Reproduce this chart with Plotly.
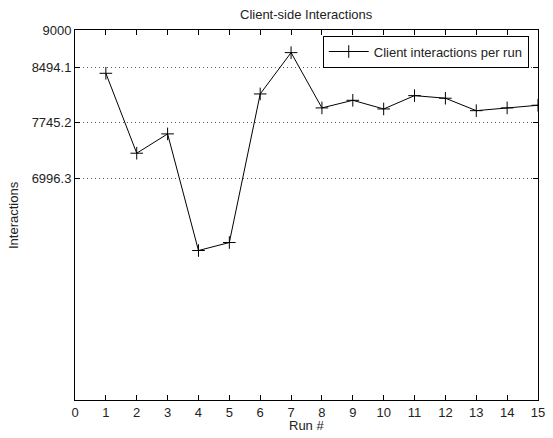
import plotly.graph_objects as go

runs = list(range(1, 16))
interactions = [8415, 7335, 7596, 6020, 6128, 8136, 8694, 7947, 8050, 7933,
                8113, 8078, 7910, 7947, 7983]
y_ticks = [6996.3, 7745.2, 8494.1, 9000]
y_tick_labels = ["6996.3", "7745.2", "8494.1", "9000"]
x_ticks = list(range(0, 16))

FONT = "Liberation Sans, Arial, sans-serif"

fig = go.Figure()
fig.add_trace(go.Scatter(
    x=runs, y=interactions, mode="lines+markers",
    name="Client interactions per run",
    line=dict(color="black", width=1),
    marker=dict(symbol="cross-thin", size=9, line=dict(color="black", width=1), color="black"),
))

axis_common = dict(
    showline=True, linecolor="black", linewidth=1, mirror="ticks",
    ticks="inside", ticklen=5, tickcolor="black", tickwidth=1,
    zeroline=False, tickfont=dict(family=FONT, size=13, color="#222"),
)

fig.update_layout(
    width=553, height=438,
    margin=dict(l=75, r=8, t=30, b=38),
    paper_bgcolor="white", plot_bgcolor="white",
    font=dict(family=FONT, size=13, color="#222"),
    showlegend=True,
    legend=dict(x=0.98, xanchor="right", y=0.985, yanchor="top",
                bordercolor="black", borderwidth=1, bgcolor="white",
                font=dict(family=FONT, size=13, color="#222"),
                itemwidth=40, tracegroupgap=0),
    xaxis=dict(range=[0, 15], tickvals=x_ticks, showgrid=False, **axis_common),
    yaxis=dict(range=[4000, 9000], tickvals=y_ticks, ticktext=y_tick_labels,
               showgrid=True, gridcolor="#555", griddash="1px,3px", gridwidth=1,
               **axis_common),
    annotations=[
        dict(text="Client-side Interactions", xref="paper", yref="paper",
             x=0.5, y=1, yanchor="middle", yshift=16, showarrow=False, font=dict(size=13)),
        dict(text="Run #", xref="paper", yref="paper", x=0.5, y=0, yshift=-25,
             showarrow=False, yanchor="middle", font=dict(size=13)),
        dict(text="Interactions", xref="paper", yref="paper", x=0, xshift=-62,
             y=0.5, textangle=-90, showarrow=False, xanchor="center",
             font=dict(size=13)),
    ],
)

fig.write_html("out.html")
